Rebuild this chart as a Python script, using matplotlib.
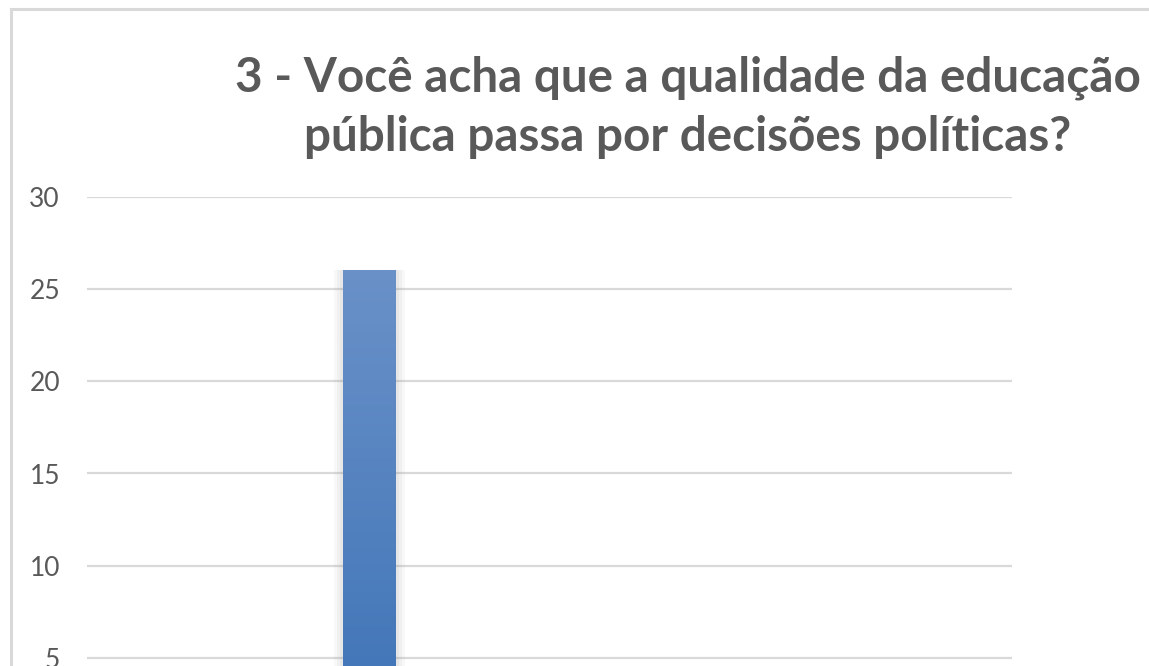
import numpy as np
import matplotlib
matplotlib.use('Agg')
import matplotlib.pyplot as plt
from matplotlib.patches import Rectangle

# data (only one bar is visible in the crop)
categories = ['Sim']
values = [26]
y_ticks = [0, 5, 10, 15, 20, 25, 30]
title = '3 - Você acha que a qualidade da educação\npública passa por decisões políticas?'

W, H = 1149, 666
plt.rcParams['font.family'] = ['Lato', 'DejaVu Sans']

fig = plt.figure(figsize=(W / 100, H / 100), dpi=100)
fig.patch.set_facecolor('white')

# plot area: grid from x=87..1012 px, y=30 at 197 px, y=0 off the bottom at ~750 px
left, right = 87 / W, 1012 / W
top = 1 - 197 / H
bottom = 1 - 750 / H
ax = fig.add_axes([left, bottom, right - left, top - bottom])

bar_w = 1.0
bars = ax.bar(np.arange(len(categories)), values, width=bar_w, color='none', zorder=3)

# Excel-like vertical gradient fill plus faint shadow
grad = np.linspace(0, 1, 256).reshape(-1, 1)
cmap = matplotlib.colors.LinearSegmentedColormap.from_list('g', ['#3C72B6', '#6A91C8'])
for b in bars:
    x0, w, h = b.get_x(), b.get_width(), b.get_height()
    for k, a in zip([0.35, 0.22, 0.12], [0.05, 0.06, 0.08]):
        ax.add_patch(Rectangle((x0 - k * 0.5, -1), w + k, h + 1.05, color='#808080',
                               alpha=a, lw=0, zorder=2))
    ax.imshow(grad, extent=(x0, x0 + w, 0, h), origin='lower', cmap=cmap,
              aspect='auto', zorder=4)

# bar centre at 369.5 px, width 53 px
px = bar_w / 53
ax.set_xlim(-(369.5 - 87) * px, (1012 - 369.5) * px)
ax.set_ylim(0, 30)
ax.set_yticks(y_ticks)
ax.yaxis.grid(True, color='#d9d9d9', linewidth=1.6, zorder=0)
ax.set_axisbelow(True)
for s in ax.spines.values():
    s.set_visible(False)
ax.tick_params(axis='y', length=0, pad=19.5, labelsize=19, labelcolor='#595959')
ax.tick_params(axis='x', length=0, labelbottom=False)

fig.text(688 / W, 1 - 107 / H, title, ha='center', va='center', fontsize=34.3,
         fontweight='bold', color='#595959', linespacing=1.42)

# chart frame (continues past the crop on the right and bottom)
fig.add_artist(Rectangle((10.5 / W, -0.1), 1.2, 1 - 8.5 / H + 0.1,
                         transform=fig.transFigure, fill=False,
                         edgecolor='#d9d9d9', linewidth=2.2, clip_on=False))

fig.savefig('out.png', dpi=100)
